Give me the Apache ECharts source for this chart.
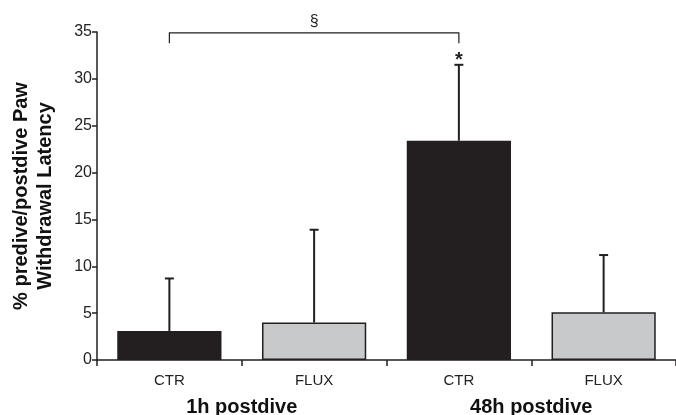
<!DOCTYPE html>
<html>
<head>
<meta charset="utf-8">
<script src="https://cdn.jsdelivr.net/npm/echarts@6/dist/echarts.min.js"></script>
<style>
html,body{margin:0;padding:0;background:#fff;}
#c{width:676px;height:415px;}
</style>
</head>
<body>
<div id="c"></div>
<script>
const categories = ['CTR', 'FLUX', 'CTR', 'FLUX'];
const groups = ['1h postdive', '48h postdive'];
const means = [3.1, 4.0, 23.4, 5.1];
const sds = [5.6, 9.9, 8.1, 6.1];
const yTicks = [0, 5, 10, 15, 20, 25, 30, 35];
const bracket = [[0, 2, 34.9, 33.8]]; // from cat, to cat, top value, drop value
const bracketMark = '§';
const starMarks = [[2, 31.5, '*']];

const DARK = '#231f20';
const GRAY = '#c8c9ca';

const chart = echarts.init(document.getElementById('c'));
chart.setOption({
  animation: false,
  grid: { left: 97, right: 0, top: 32, bottom: 55, containLabel: false, outerBoundsMode: 'none' },
  xAxis: [{
    type: 'category',
    data: categories,
    axisLine: { show: true, lineStyle: { color: DARK, width: 1.5 } },
    axisTick: { show: true, alignWithLabel: false, length: 6, lineStyle: { color: DARK, width: 1.5 } },
    axisLabel: { color: '#222', fontFamily: 'Liberation Sans', fontSize: 15, margin: 13 }
  }, {
    type: 'category',
    data: groups,
    position: 'bottom',
    offset: 30,
    axisLine: { show: false },
    axisTick: { show: false },
    axisLabel: { color: '#111', fontFamily: 'Liberation Sans', fontWeight: 'bold', fontSize: 20, margin: 7 }
  }],
  yAxis: {
    type: 'value',
    min: yTicks[0],
    max: yTicks[yTicks.length - 1],
    interval: 5,
    splitLine: { show: false },
    axisLine: { show: true, lineStyle: { color: DARK, width: 1.5 } },
    axisTick: { show: true, length: 5, lineStyle: { color: DARK, width: 1.5 } },
    axisLabel: { color: '#222', fontFamily: 'Liberation Sans', fontSize: 16, margin: 5 },
    name: '% predive/postdive Paw\nWithdrawal Latency',
    nameLocation: 'middle',
    nameRotate: 90,
    nameGap: 40,
    nameTextStyle: { color: '#111', fontFamily: 'Liberation Sans', fontWeight: 'bold', fontSize: 20, lineHeight: 24 }
  },
  series: [{
    type: 'bar',
    barWidth: '72%',
    data: means.map((v, i) => ({
      value: v,
      itemStyle: i % 2 === 0
        ? { color: DARK }
        : { color: GRAY, borderColor: DARK, borderWidth: 1.5 }
    })),
    z: 2
  }, {
    type: 'custom',
    z: 1,
    data: means.map((m, i) => [i, m, m + sds[i]]),
    renderItem: function (params, api) {
      const base = api.coord([api.value(0), api.value(1)]);
      const top = api.coord([api.value(0), api.value(2)]);
      return {
        type: 'group',
        children: [{
          type: 'line',
          shape: { x1: base[0], y1: base[1], x2: top[0], y2: top[1] },
          style: { stroke: DARK, lineWidth: 2 }
        }, {
          type: 'line',
          shape: { x1: top[0] - 4.5, y1: top[1], x2: top[0] + 4.5, y2: top[1] },
          style: { stroke: DARK, lineWidth: 2 }
        }]
      };
    }
  }, {
    type: 'custom',
    z: 3,
    data: bracket,
    renderItem: function (params, api) {
      const a = api.coord([api.value(0), api.value(2)]);
      const b = api.coord([api.value(1), api.value(2)]);
      const ad = api.coord([api.value(0), api.value(3)]);
      const bd = api.coord([api.value(1), api.value(3)]);
      return {
        type: 'group',
        children: [{
          type: 'polyline',
          shape: { points: [[ad[0], ad[1]], [a[0], a[1]], [b[0], b[1]], [bd[0], bd[1]]] },
          style: { stroke: DARK, lineWidth: 1.2, fill: null }
        }, {
          type: 'text',
          x: (a[0] + b[0]) / 2,
          y: a[1] - 3,
          style: { text: bracketMark, fontFamily: 'Liberation Sans', fontSize: 16, fill: '#222', align: 'center', verticalAlign: 'bottom' }
        }]
      };
    }
  }, {
    type: 'custom',
    z: 3,
    data: starMarks,
    renderItem: function (params, api) {
      const p = api.coord([api.value(0), api.value(1)]);
      return {
        type: 'text',
        x: p[0],
        y: p[1] + 6,
        style: { text: starMarks[params.dataIndex][2], fontFamily: 'Liberation Sans', fontWeight: 'bold', fontSize: 20, fill: '#222', align: 'center', verticalAlign: 'bottom' }
      };
    }
  }]
});
</script>
</body>
</html>
